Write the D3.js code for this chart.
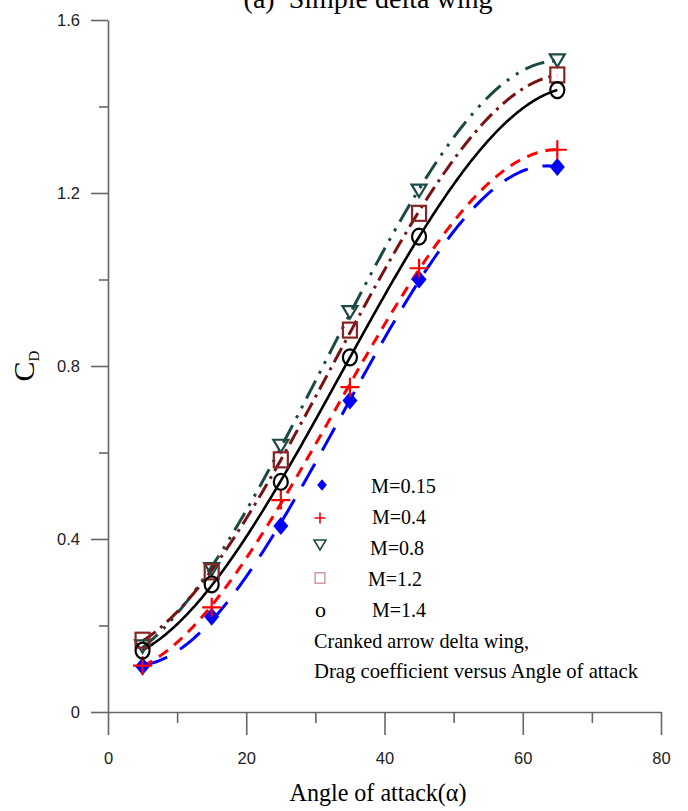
<!DOCTYPE html>
<html>
<head>
<meta charset="utf-8">
<script src="https://cdn.jsdelivr.net/npm/d3@7/dist/d3.min.js"></script>
<style>
  html, body { margin: 0; padding: 0; background: #fff; }
  svg { display: block; }
</style>
</head>
<body>
<svg id="chart" width="688" height="811"></svg>
<script>
// ---------------- data ----------------
const alpha = [5, 15, 25, 35, 45, 65];
const cdM015 = [0.106, 0.220, 0.430, 0.720, 1.000, 1.260];
const cdM04  = [0.107, 0.242, 0.490, 0.751, 1.026, 1.300];
const cdM08  = [0.151, 0.330, 0.615, 0.924, 1.205, 1.506];
const cdM12  = [0.166, 0.324, 0.583, 0.883, 1.153, 1.473];
const cdM14  = [0.142, 0.295, 0.532, 0.820, 1.099, 1.438];
const seriesNames = ["M=0.15", "M=0.4", "M=0.8", "M=1.2", "M=1.4"];
const xTicksMajor = [0, 20, 40, 60, 80];
const xTicksMinor = [10, 30, 50, 70];
const yTicksMajor = [0, 0.4, 0.8, 1.2, 1.6];
const yTicksMinor = [0.2, 0.6, 1.0, 1.4];
const titleText = "(a)  Simple delta wing";
const xTitle = "Angle of attack(\u03b1)";
const noteLines = ["Cranked arrow delta wing,", "Drag coefficient versus Angle of attack"];

// ---------------- setup ----------------
const svg = d3.select("#chart");
const x = d3.scaleLinear().domain([0, 80]).range([108, 661]);
const y = d3.scaleLinear().domain([0, 1.6]).range([712, 20]);

const axisColor = "#666";

// cubic least-squares trend curve from the data points
function cubicFit(xs, ys) {
  const n = 4;
  const A = Array.from({length: n}, () => new Array(n).fill(0));
  const b = new Array(n).fill(0);
  xs.forEach((xv, i) => {
    const p = [1, xv, xv * xv, xv * xv * xv];
    for (let r = 0; r < n; r++) {
      b[r] += p[r] * ys[i];
      for (let c = 0; c < n; c++) A[r][c] += p[r] * p[c];
    }
  });
  for (let i = 0; i < n; i++) {
    let piv = i;
    for (let k = i + 1; k < n; k++) if (Math.abs(A[k][i]) > Math.abs(A[piv][i])) piv = k;
    [A[i], A[piv]] = [A[piv], A[i]];
    [b[i], b[piv]] = [b[piv], b[i]];
    for (let k = i + 1; k < n; k++) {
      const f = A[k][i] / A[i][i];
      for (let c = i; c < n; c++) A[k][c] -= f * A[i][c];
      b[k] -= f * b[i];
    }
  }
  const coef = new Array(n).fill(0);
  for (let i = n - 1; i >= 0; i--) {
    let s = b[i];
    for (let c = i + 1; c < n; c++) s -= A[i][c] * coef[c];
    coef[i] = s / A[i][i];
  }
  return t => coef[0] + coef[1] * t + coef[2] * t * t + coef[3] * t * t * t;
}

const series = [
  {name: seriesNames[0], values: cdM015, color: "#0000ff", dash: "26,15", width: 3, marker: "diamond"},
  {name: seriesNames[1], values: cdM04,  color: "#ff0000", dash: "11,8", width: 3, marker: "plus"},
  {name: seriesNames[2], values: cdM08,  color: "#1b4a45", dash: "20,8,3,8,3,8", width: 3, marker: "triangle"},
  {name: seriesNames[3], values: cdM12,  color: "#7a1212", dash: "16,6,3,6", width: 3, marker: "square"},
  {name: seriesNames[4], values: cdM14,  color: "#000000", dash: null, width: 2.6, marker: "circle"}
];

// ---------------- axes ----------------
const gx = svg.append("g").attr("transform", `translate(0,${y(0)})`);
gx.call(d3.axisBottom(x).tickValues(xTicksMajor).tickSize(23).tickSizeOuter(0).tickPadding(17).tickFormat(d3.format("d")));
const gxm = svg.append("g").attr("transform", `translate(0,${y(0)})`);
gxm.call(d3.axisBottom(x).tickValues(xTicksMinor).tickSize(11).tickSizeOuter(0).tickFormat(""));
gxm.select(".domain").remove();

const gy = svg.append("g").attr("transform", `translate(${x(0)},0)`);
gy.call(d3.axisLeft(y).tickValues(yTicksMajor).tickSize(17).tickSizeOuter(0).tickPadding(11).tickFormat(d => d === 0 ? "0" : d3.format(".1f")(d)));
const gym = svg.append("g").attr("transform", `translate(${x(0)},0)`);
gym.call(d3.axisLeft(y).tickValues(yTicksMinor).tickSize(9).tickSizeOuter(0).tickFormat(""));
gym.select(".domain").remove();

svg.selectAll(".domain, .tick line").attr("stroke", axisColor).attr("stroke-width", 1.6);
svg.selectAll(".tick text")
  .attr("font-family", "'Liberation Sans', Arial, sans-serif")
  .attr("font-size", 16.5)
  .attr("fill", "#222");

// ---------------- curves ----------------
const line = d3.line().x(d => x(d[0])).y(d => y(d[1])).curve(d3.curveLinear);
const gCurves = svg.append("g");
series.forEach(s => {
  const f = cubicFit(alpha, s.values);
  const a0 = d3.min(alpha), a1 = d3.max(alpha);
  const pts = d3.range(a0, a1 + 0.001, 0.25).map(t => [t, f(t)]);
  gCurves.append("path")
    .attr("d", line(pts))
    .attr("fill", "none")
    .attr("stroke", s.color)
    .attr("stroke-width", s.width)
    .attr("stroke-dasharray", s.dash)
    .attr("stroke-linecap", "butt");
});

// ---------------- markers ----------------
function drawMarker(g, type, cx, cy, opts) {
  const sc = opts.scale || 1;
  const sw = opts.sw || 2;
  if (type === "diamond") {
    const w = 7.5 * sc, h = 9 * sc;
    g.append("path").attr("d", `M${cx},${cy - h}L${cx + w},${cy}L${cx},${cy + h}L${cx - w},${cy}Z`)
      .attr("fill", opts.color).attr("stroke", "none");
  } else if (type === "plus") {
    const r = 9.5 * sc;
    g.append("path").attr("d", `M${cx - r},${cy}H${cx + r}M${cx},${cy - r}V${cy + r}`)
      .attr("stroke", opts.color).attr("stroke-width", sw).attr("fill", "none");
  } else if (type === "triangle") {
    const w = 7.5 * sc, h = 12.5 * sc;
    g.append("path").attr("d", `M${cx - w},${cy - h / 2}H${cx + w}L${cx},${cy + h / 2}Z`)
      .attr("fill", "none").attr("stroke", opts.color).attr("stroke-width", sw);
  } else if (type === "square") {
    const w = 7 * sc, h = 7.5 * sc;
    g.append("rect").attr("x", cx - w).attr("y", cy - h).attr("width", 2 * w).attr("height", 2 * h)
      .attr("fill", "none").attr("stroke", opts.color).attr("stroke-width", sw);
  } else if (type === "circle") {
    g.append("ellipse").attr("cx", cx).attr("cy", cy).attr("rx", 7 * sc).attr("ry", 8 * sc)
      .attr("fill", "none").attr("stroke", opts.color).attr("stroke-width", sw);
  }
}

const gMarkers = svg.append("g");
const markerColors = {diamond: "#0000ff", plus: "#ff0000", triangle: "#1b4a45", square: "#8a2424", circle: "#000"};
series.forEach(s => {
  alpha.forEach((a, i) => {
    drawMarker(gMarkers, s.marker, x(a), y(s.values[i]), {color: markerColors[s.marker], sw: 2.2});
  });
});

// ---------------- legend ----------------
const serif = "'Liberation Serif', 'Times New Roman', serif";
const lg = svg.append("g");
const legendRows = [
  {marker: "diamond", mx: 322, my: 485, tx: 371, ty: 493, color: "#0000ff", scale: 0.65, w: 65},
  {marker: "plus", mx: 320, my: 518, tx: 372, ty: 524, color: "#ff0000", scale: 0.58, w: 54},
  {marker: "triangle", mx: 320, my: 545, tx: 370, ty: 555, color: "#1b4a45", scale: 0.8, w: 54},
  {marker: "square", mx: 320, my: 578, tx: 368, ty: 586, color: "#c99090", scale: 0.7, w: 54},
  {marker: "o", mx: 315, my: 617, tx: 372, ty: 617, color: "#000", scale: 1, w: 54}
];
legendRows.forEach((r, i) => {
  if (r.marker === "o") {
    lg.append("text").attr("x", r.mx).attr("y", r.my).text("o")
      .attr("font-family", serif).attr("font-size", 22).attr("fill", "#000");
  } else {
    drawMarker(lg, r.marker, r.mx, r.my, {color: r.color, scale: r.scale, sw: r.marker === "square" ? 1.3 : 1.6});
  }
  lg.append("text").attr("x", r.tx).attr("y", r.ty).text(seriesNames[i])
    .attr("font-family", serif).attr("font-size", 22).attr("fill", "#000")
    .attr("textLength", r.w).attr("lengthAdjust", "spacingAndGlyphs");
});
noteLines.forEach((t, i) => {
  lg.append("text").attr("x", 314).attr("y", 648 + i * 30).text(t)
    .attr("font-family", serif).attr("font-size", 22).attr("fill", "#000")
    .attr("textLength", i === 0 ? 215 : 324).attr("lengthAdjust", "spacingAndGlyphs");
});

// ---------------- titles ----------------
svg.append("text").attr("x", 368).attr("y", 8).attr("text-anchor", "middle")
  .attr("xml:space", "preserve")
  .attr("font-family", serif).attr("font-size", 28).attr("fill", "#000")
  .text(titleText);

svg.append("text").attr("x", 378).attr("y", 801).attr("text-anchor", "middle")
  .attr("font-family", serif).attr("font-size", 26).attr("fill", "#000")
  .attr("textLength", 177).attr("lengthAdjust", "spacingAndGlyphs")
  .text(xTitle);

const yt = svg.append("text").attr("transform", "translate(34,366) rotate(-90)")
  .attr("text-anchor", "middle").attr("font-family", serif).attr("fill", "#000");
yt.append("tspan").attr("font-size", 30).text("C");
yt.append("tspan").attr("font-size", 15).attr("dy", 5).text("D");
</script>
</body>
</html>
